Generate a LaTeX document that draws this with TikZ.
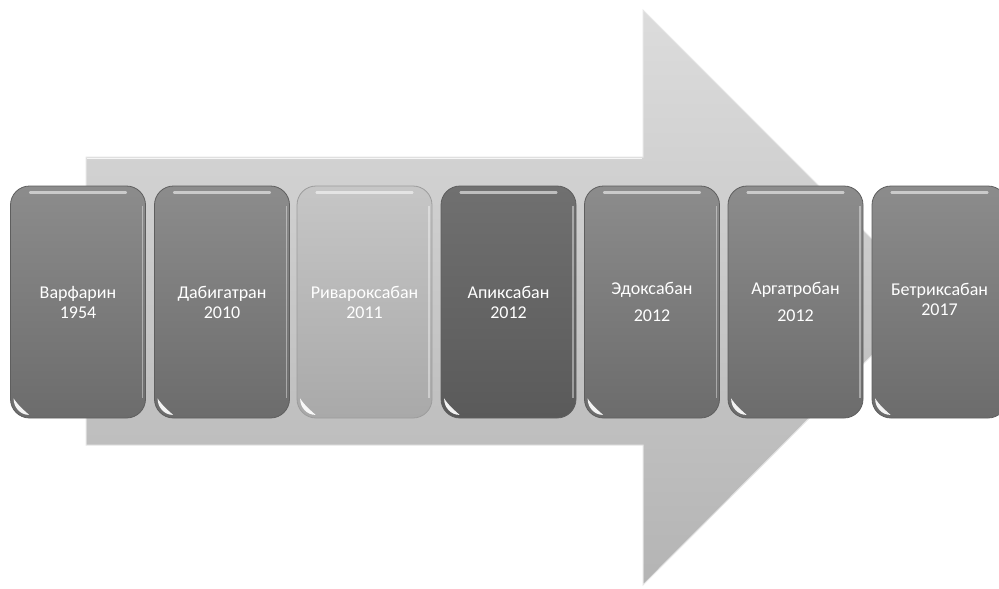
\documentclass[tikz,border=0pt]{standalone}
\usepackage{fontspec}
\setmainfont{Carlito}
\usetikzlibrary{calc}

\definecolor{arrowtop}{HTML}{DCDCDC}
\definecolor{arrowbot}{HTML}{B4B4B4}
\definecolor{arrowedge}{HTML}{E6E6E6}
\definecolor{cardtop}{HTML}{8C8C8C}
\definecolor{cardbot}{HTML}{6C6C6C}
\definecolor{cardedge}{HTML}{5E5E5E}
\definecolor{palecardtop}{HTML}{C6C6C6}
\definecolor{palecardbot}{HTML}{A9A9A9}
\definecolor{paleedge}{HTML}{9C9C9C}
\definecolor{darkcardtop}{HTML}{707070}
\definecolor{darkcardbot}{HTML}{5A5A5A}

\tikzset{
  card/.style={rectangle, rounded corners=19pt, minimum width=135pt,
    minimum height=232pt, inner sep=0pt, draw=cardedge, line width=0.8pt,
    top color=cardtop, bottom color=cardbot},
  palecard/.style={card, draw=paleedge, top color=palecardtop, bottom color=palecardbot},
  darkcard/.style={card, top color=darkcardtop, bottom color=darkcardbot},
  cardtext/.style={text=white, align=center, inner sep=0pt,
    font=\fontsize{18}{20}\selectfont},
  shine/.style={white, opacity=.55, line width=2.5pt, line cap=round},
  glint/.style={white, opacity=.92},
  rim/.style={white, opacity=.4, line width=1.2pt}
}

\begin{document}
\begin{tikzpicture}[x=1pt,y=-1pt]
\useasboundingbox (0,0) rectangle (999,589);

% background arrow
\shade[top color=arrowtop, bottom color=arrowbot, draw=arrowedge, line width=1pt]
  (86,157) -- (643,157) -- (643,10) -- (930,297) -- (643,585) -- (643,445)
  -- (86,445) -- cycle;
\draw[white, opacity=.8, line width=1.5pt] (87,158.5) -- (642,158.5);

% timeline cards
\node[card]     (b1) at (78,302)    {};
\node[card]     (b2) at (222,302)   {};
\node[palecard] (b3) at (364.5,302) {};
\node[darkcard] (b4) at (508.5,302) {};
\node[card]     (b5) at (652,302)   {};
\node[card]     (b6) at (795.5,302) {};
\node[card]     (b7) at (939.5,302) {};

% glossy highlights on the cards: top streak, right rim, corner glint
\foreach \i in {1,...,7}{
  \draw[shine] ($(b\i.north west)+(20,7)$) -- ($(b\i.north east)+(-20,7)$);
  \draw[rim] ($(b\i.north east)+(-3.5,20)$) -- ($(b\i.south east)+(-3.5,-20)$);
  \fill[glint] ($(b\i.south west)+(3.5,-20)$)
    .. controls ($(b\i.south west)+(3.5,-11)$) and ($(b\i.south west)+(10,-3.5)$)
    .. ($(b\i.south west)+(19,-3.5)$)
    .. controls ($(b\i.south west)+(14,-8)$) and ($(b\i.south west)+(8,-13)$)
    .. cycle;
}

% labels
\node[cardtext] (t1) at (b1.center) {Варфарин\\1954};
\node[cardtext] (t2) at (b2.center) {Дабигатран\\2010};
\node[cardtext] (t3) at (b3.center) {Ривароксабан\\2011};
\node[cardtext] (t4) at (b4.center) {Апиксабан\\2012};
\node[cardtext] (t5) at (b5.center) {Эдоксабан\\[7pt]2012};
\node[cardtext] (t6) at (b6.center) {Аргатробан\\[7pt]2012};
\node[cardtext] (t7) at ($(b7.center)+(0,-3)$) {Бетриксабан\\2017};
\end{tikzpicture}
\end{document}
